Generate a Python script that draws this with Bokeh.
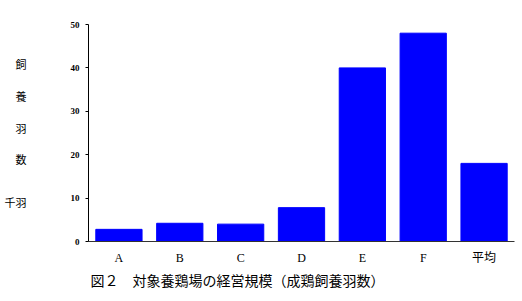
from bokeh.plotting import figure
from bokeh.models import FixedTicker, Range1d, Title
from bokeh.embed import file_html
from bokeh.resources import INLINE

categories = ["A", "B", "C", "D", "E", "F", "平均"]
values = [2.8, 4.2, 4.0, 7.8, 40.0, 48.0, 18.0]
y_ticks = [0, 10, 20, 30, 40, 50]
caption = "図２　対象養鶏場の経営規模（成鶏飼養羽数）"
ylabel_chars = ["飼", "養", "羽", "数"]
unit = "千羽"

p = figure(width=522, height=297, x_range=categories, y_range=Range1d(0, 50),
           output_backend="svg", toolbar_location=None,
           min_border_left=88, min_border_right=8, min_border_top=24, min_border_bottom=56)
p.vbar(x=categories, top=values, width=0.76, color="#0000FF")
p.x_range.range_padding = 0
p.grid.visible = False
p.outline_line_color = None
p.background_fill_color = "white"
p.border_fill_color = "white"

p.yaxis.ticker = FixedTicker(ticks=y_ticks)
p.yaxis.minor_tick_line_color = None
p.yaxis.major_tick_out = 3
p.yaxis.major_tick_in = 0
p.yaxis.axis_line_color = "black"
p.yaxis.major_tick_line_color = "black"
p.yaxis.major_label_text_font = "Liberation Serif"
p.yaxis.major_label_text_font_size = "9px"
p.yaxis.major_label_text_font_style = "bold"
p.yaxis.major_label_text_color = "black"
p.yaxis.major_label_standoff = 6
p.yaxis.axis_label = "\n\n\n".join(ylabel_chars) + "\n\n\n\n" + unit
p.yaxis.axis_label_orientation = "horizontal"
p.yaxis.axis_label_text_font = "Noto Sans CJK JP"
p.yaxis.axis_label_text_font_size = "11px"
p.yaxis.axis_label_text_font_style = "normal"
p.yaxis.axis_label_text_color = "black"
p.yaxis.axis_label_text_line_height = 0.66
p.yaxis.axis_label_standoff = 41

p.xaxis.major_tick_line_color = None
p.xaxis.minor_tick_line_color = None
p.xaxis.axis_line_color = "#333333"
p.xaxis.major_label_text_font = "Liberation Serif, Noto Sans CJK JP"
p.xaxis.major_label_text_font_size = "12px"
p.xaxis.major_label_text_color = "black"
p.xaxis.major_label_standoff = 3
p.xaxis.axis_label_standoff = 0

t = Title(text=caption, align="left", offset=2, standoff=0, text_font="Noto Sans CJK JP",
          text_font_size="14px", text_font_style="normal", text_color="black")
p.add_layout(t, "below")

open("out.html", "w").write(file_html(p, INLINE))
